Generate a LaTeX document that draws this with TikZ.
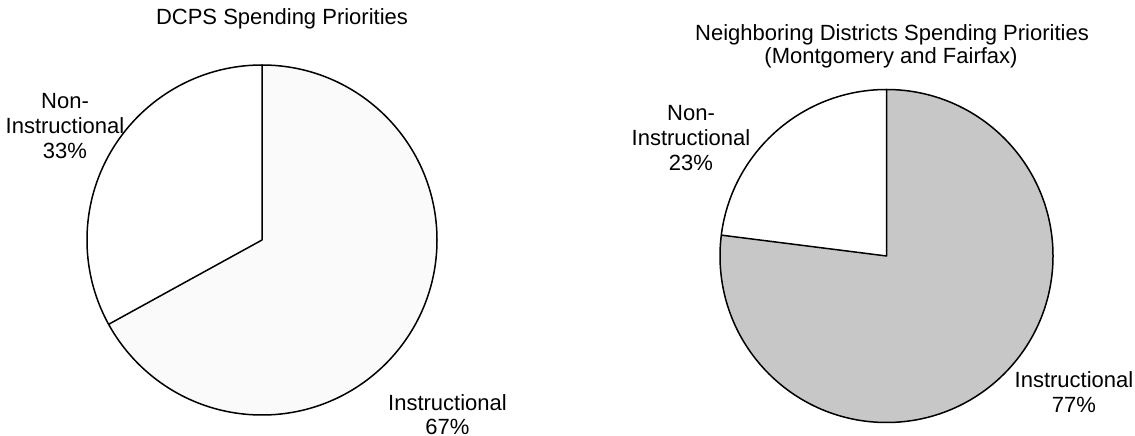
\documentclass[tikz,border=0pt]{standalone}
\usepackage{fontspec}
\setmainfont{Liberation Sans}
\usetikzlibrary{calc}
\begin{document}
\begin{tikzpicture}[x=1pt,y=1pt,
  lbl/.style={anchor=base,inner sep=0pt,font=\fontsize{22}{25}\selectfont},
  pieline/.style={draw=black,line width=1.5pt,line join=round},
  lightslice/.style={fill=black!2},
  darkslice/.style={fill=black!22}]
\useasboundingbox (0,0) rectangle (1135,436);
% left pie
\coordinate (L) at (262,196);
\fill[lightslice] (L) -- ++(208.8:175) arc[start angle=208.8,end angle=450,radius=175] -- cycle;
\draw[pieline] (L) circle[radius=175];
\coordinate (Ltop) at ($(L)+(90:175)$);
\coordinate (Lcut) at ($(L)+(208.8:175)$);
\draw[pieline] (Ltop) -- (L) -- (Lcut);
% right pie
\coordinate (R) at (886.5,180);
\fill[darkslice] (R) -- ++(172.8:166.5) arc[start angle=172.8,end angle=450,radius=166.5] -- cycle;
\draw[pieline] (R) circle[radius=166.5];
\coordinate (Rtop) at ($(R)+(90:166.5)$);
\coordinate (Rcut) at ($(R)+(172.8:166.5)$);
\draw[pieline] (Rtop) -- (R) -- (Rcut);
% titles
\node[lbl] (t1) at (282,411) {DCPS Spending Priorities};
\node[lbl] (t2a) at (892,395) {Neighboring Districts Spending Priorities};
\node[lbl] (t2b) at (891,372) {(Montgomery and Fairfax)};
% left labels
\node[lbl] (ln1) at (65,327.7) {Non-};
\node[lbl] (ln2) at (65,302.7) {Instructional};
\node[lbl] (ln3) at (65,277.7) {33\%};
\node[lbl] (li1) at (447.5,25.5) {Instructional};
\node[lbl] (li2) at (447.5,1) {67\%};
% right labels
\node[lbl] (rn1) at (691,315) {Non-};
\node[lbl] (rn2) at (691,290) {Instructional};
\node[lbl] (rn3) at (691,265) {23\%};
\node[lbl] (ri1) at (1074,48) {Instructional};
\node[lbl] (ri2) at (1074,23) {77\%};
\end{tikzpicture}
\end{document}
